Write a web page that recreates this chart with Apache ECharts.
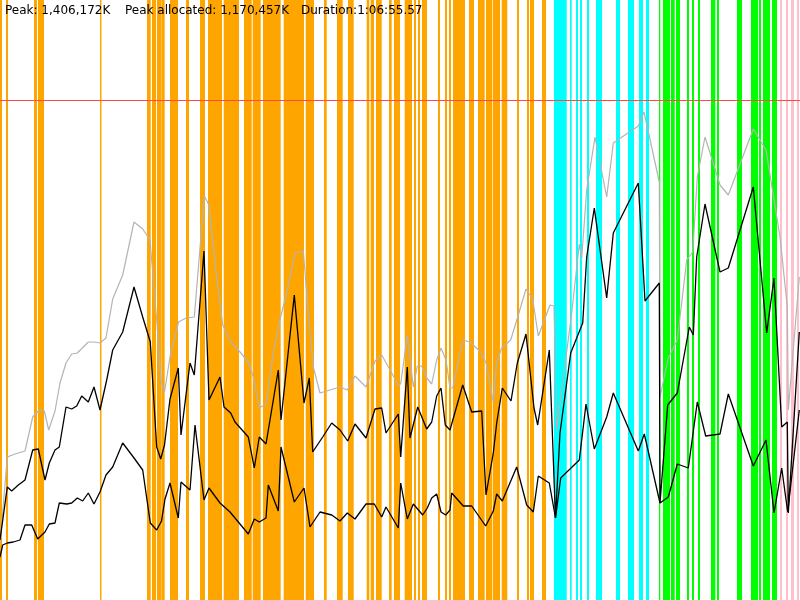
<!DOCTYPE html>
<html>
<head>
<meta charset="utf-8">
<script src="https://cdn.jsdelivr.net/npm/echarts@6/dist/echarts.min.js"></script>
<style>html,body{margin:0;padding:0;background:#fff}#c{width:800px;height:600px}</style>
</head>
<body>
<div id="c"></div>
<script>
// Header texts
var headerTexts = ['Peak: 1,406,172K', 'Peak allocated: 1,170,457K', 'Duration:1:06:55.57'];

// Axis extents (sample position, memory height units)
var timeRange = [0, 800];
var memRange = [0, 600];
var peakLevel = [500];

// Activity bands: [start, end, kind]  kind: 0 orange, 1 cyan, 2 green, 3 pink
var bandKinds = ['#FFA500', '#00FFFF', '#00FF00', '#FFC0CB'];
var bands = [
  [0,2,0],[6,8,0],[34,37,0],[38,44,0],[100,101.5,0],[147,150.7,0],[152,156,0],[157,161.7,0],[162,164.7,0],
  [170,178,0],[186,189,0],[200,205,0],[208,222,0],[223.7,239,0],[244,251.7,0],[252.7,260.7,0],[263,280.7,0],
  [283.7,304,0],[305.7,314,0],[324,326.7,0],[337,342.7,0],[348,353.7,0],[366.7,369.3,0],[370.7,374,0],
  [376,381.7,0],[389,391.7,0],[394,400,0],[404.7,412,0],[414,416,0],[418,420,0],[422,427,0],[438,440,0],
  [445,447,0],[449,451,0],[453,465,0],[469,474,0],[478,484.7,0],[486,492.3,0],[493,500,0],[501.7,507.3,0],
  [517,519,0],[527,529,0],[530,534,0],[542,546,0],
  [554,566.7,1],[570,571.7,1],[576,578,1],[580,582,1],[587,589,1],[596,602,1],[616,620,1],[628,634,1],
  [639,643,1],[646,649,1],
  [659,660.3,2],[663,670,2],[671,674.7,2],[676,680,2],[687,689,2],[692,694,2],[698,700,2],[711,715.3,2],
  [717,719,2],[737,742,2],[751,758,2],[759,761,2],[763,770,2],[772,777,2],
  [780,782,3],[786,788,3],[791,794,3],[797,799,3]
];

// Committed (gray)
var committed = [
  [0,55],[7.3,143],[15,146],[25,149],[32.7,183],[39.3,190],[44.3,189],[48.7,170],[55,189],[60,217],[66,237],
  [71.7,246],[77.3,247],[88.3,258],[94,258],[100,257],[106,262],[112.7,301],[122.7,325],[134,378],[142.7,371],
  [150,360],[156.7,280],[161,219],[164.5,208],[170,243],[178.5,278],[186,282],[194.3,283],[204.3,404],[209,395],
  [215,337],[222.7,275],[230.7,258],[240,248],[248.3,238],[253.3,223],[259.3,192],[266,196],[273.3,247],
  [279.3,278],[286.7,307],[295,347],[303.3,349],[308.3,287],[313.3,233],[320,207],[330,210],[340,213],
  [347.3,210],[355,224],[366,213],[375,239],[381.7,245],[391.7,227],[398.3,215],[400.7,216],[407.3,265],
  [409.3,263],[413.3,213],[417.3,234],[421.7,234],[426.7,222],[431.7,216],[436.7,240],[441,252],[446,240],
  [450,212],[452.7,212],[462.7,260],[470,258],[480.7,248],[486,237],[493.3,198],[496.7,238],[501.7,252],
  [510.7,260],[518.3,285],[526,311],[532.7,301],[538.3,264],[550,295],[554,294],[556.7,170],[561.7,210],
  [571.7,287],[579.3,356],[581.7,342],[586.7,410],[595,463],[606.7,403],[613.3,457],[638.3,474],[644,488],
  [659.3,418],[660,203],[668.3,242],[677.3,260],[686.7,340],[692.7,348],[697.3,423],[705,463],[720,415],
  [728.3,405],[753.3,471],[766,450],[780,363],[787.3,293],[788.3,190],[799.3,323]
];

// Used (upper black)
var used = [
  [0,60],[7.3,113],[11.7,109],[18.3,115],[25,120],[32.7,150],[38.3,151],[45,120],[49.3,137],[55,150],[59.3,153],
  [66,193],[71.7,191],[76.7,194],[81.7,204],[88.3,198],[94,213],[100,190],[106.7,220],[112.7,250],[122.7,268],
  [134,313],[142.7,283],[150.3,258],[156.7,153],[160.7,141],[164.5,155],[170,201],[178.3,232],[181,165],
  [190,237],[194.3,225],[204,349],[209,200],[220,223],[224,193],[230.7,187],[235,178],[248.3,163],[254.3,132],
  [259.3,163],[266,156],[278.3,230],[281,180],[294.3,305],[304,197],[309.3,222],[312.7,148],[322.7,163],
  [331.7,177],[340,170],[347.7,159],[355,176],[366,162],[375,191],[381.7,192],[386,167],[398.3,186],
  [400.7,143],[407.3,233],[410,162],[417.7,193],[426.7,171],[431.7,178],[436.7,204],[441,212],[445.3,175],
  [450,170],[462.7,215],[471.7,188],[481.7,189],[486,105],[493.3,147],[496.7,177],[502.3,212],[511,199],
  [517.3,237],[526,266],[534,192],[537.7,175],[549.3,250],[555.5,82],[560,167],[570.7,247],[582.7,277],
  [586.7,343],[594.3,392],[606.7,302],[613.3,367],[638.3,417],[645,299],[659.3,317],[660,97],[667.7,195],
  [677.3,207],[689.3,273],[693.3,265],[696.7,343],[705,396],[720,328],[728.3,332],[753.3,413],[766.7,267],
  [774,322],[781.7,173],[787.3,178],[788.3,87],[799.3,268]
];

// Allocated (lower black)
var allocated = [
  [0,43],[2.7,55],[7.3,57],[13.3,58],[20,60],[25,75],[31.7,75],[37.7,61],[45,68],[49.3,76],[55,77],[59.3,97],
  [66.7,96],[71.7,97],[77.3,102],[82.7,99],[88.3,107],[94,96],[100,108],[106,125],[112.7,133],[122.7,157],
  [133.3,143],[142.7,130],[150.3,77],[156.7,70],[161.5,79],[165,101],[170,117],[178.3,82],[181,118],[190,110],
  [195,175],[204,100],[209,112],[220,97],[230,88],[248.3,66],[254.3,81],[259.3,78],[266,82],[268.3,115],
  [278.3,89],[281,153],[294.3,98],[304,112],[310,73],[320,88],[331.7,85],[340,79],[347.3,87],[355,81],[366,96],
  [374.3,96],[381.7,83],[386,93],[398.3,72],[400.7,117],[407.3,81],[413.3,96],[422.7,85],[427.3,92],
  [431.7,102],[436.7,106],[441,88],[445.7,85],[450,90],[451.7,107],[463.3,94],[471.7,94],[485.7,74],
  [493.3,89],[496.7,106],[502.3,99],[516.7,133],[526.7,95],[533.3,88],[538.3,124],[549.3,117],[555.5,82],
  [560.7,122],[579.3,140],[586,196],[594.3,151],[606.7,183],[613.3,207],[638.3,149],[644.3,166],[660,97],
  [668.3,103],[677.3,136],[688.3,132],[697.3,198],[705.7,164],[720,166],[728.3,206],[753.3,134],[766,160],
  [774,87],[781.7,132],[787.7,88],[799.3,190]
];

var chart = echarts.init(document.getElementById('c'), null, {renderer: 'canvas'});
var headerX = [5, 125, 301];
chart.setOption({
  animation: false,
  backgroundColor: '#ffffff',
  grid: {left: 0, right: 0, top: 0, bottom: 0},
  xAxis: {type: 'value', min: timeRange[0], max: timeRange[1], show: false},
  yAxis: {type: 'value', min: memRange[0], max: memRange[1], show: false},
  graphic: headerTexts.map(function (t, i) {
    return {type: 'text', left: headerX[i], top: 5, z: 100,
      style: {text: t, fill: '#000', font: '12px "DejaVu Sans", sans-serif'}};
  }),
  series: [
    {
      type: 'custom',
      z: 1,
      silent: true,
      data: bands,
      renderItem: function (params, api) {
        var a = api.coord([api.value(0), memRange[1]]);
        var b = api.coord([api.value(1), memRange[0]]);
        return {type: 'rect', shape: {x: a[0], y: a[1], width: Math.max(b[0] - a[0], 1), height: b[1] - a[1]},
          style: {fill: bandKinds[api.value(2)]}};
      }
    },
    {type: 'line', z: 3, data: committed, symbol: 'none', lineStyle: {color: '#b4b4b4', width: 1.2}},
    {type: 'line', z: 4, data: used, symbol: 'none', lineStyle: {color: '#000', width: 1.3}},
    {type: 'line', z: 4, data: allocated, symbol: 'none', lineStyle: {color: '#000', width: 1.3},
      markLine: {silent: true, symbol: 'none', label: {show: false},
        lineStyle: {color: '#ff4a4a', width: 1.2, type: 'solid'},
        data: peakLevel.map(function (v) { return {yAxis: v}; })}}
  ]
});
</script>
</body>
</html>
